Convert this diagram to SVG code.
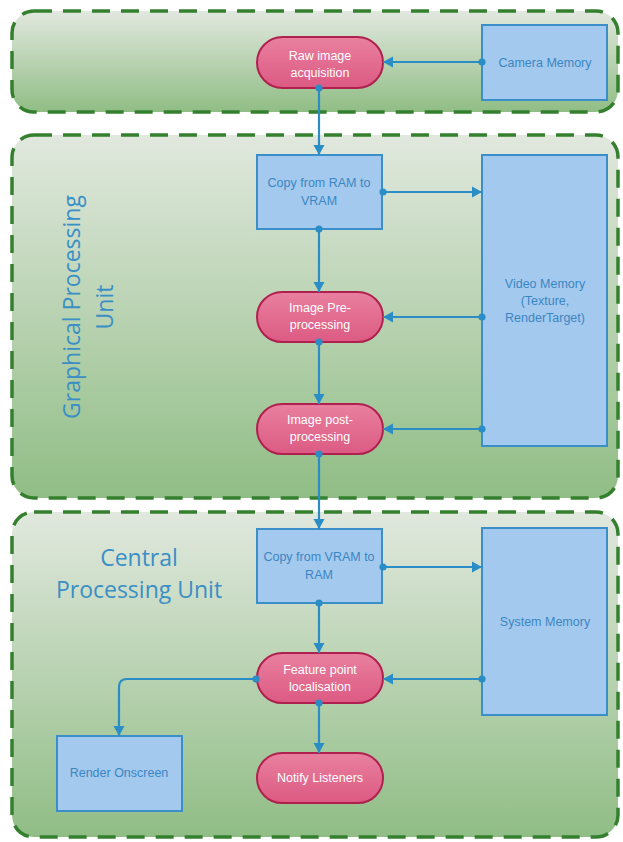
<svg xmlns="http://www.w3.org/2000/svg" width="623" height="842" viewBox="0 0 623 842">
<defs>
<linearGradient id="gGreen" x1="0" y1="0" x2="0" y2="1">
<stop offset="0" stop-color="#e1e8de"/>
<stop offset="1" stop-color="#90bd85"/>
</linearGradient>
<linearGradient id="gPink" x1="0" y1="0" x2="0" y2="1">
<stop offset="0" stop-color="#e9809f"/>
<stop offset="1" stop-color="#dc5a83"/>
</linearGradient>
<marker id="arr" markerUnits="userSpaceOnUse" markerWidth="14" markerHeight="14" refX="11" refY="7" orient="auto">
<path d="M1,1.5 L11,7 L1,12.5 Z" fill="#2a8dc5"/>
</marker>
<marker id="dot" markerUnits="userSpaceOnUse" markerWidth="10" markerHeight="10" refX="5" refY="5" orient="auto">
<circle cx="5" cy="5" r="3.6" fill="#2a8dc5"/>
</marker>
<style>
.cont{fill:url(#gGreen);stroke:#35802f;stroke-width:3.5;stroke-dasharray:18 11;}
.box{fill:#a4c9ee;stroke:#3a8fca;stroke-width:2;}
.pill{fill:url(#gPink);stroke:#b0204f;stroke-width:2;}
.bt{font-family:"Liberation Sans",Arial,sans-serif;font-size:12.5px;fill:#3a86c2;text-anchor:middle;}
.pt{font-family:"Liberation Sans",Arial,sans-serif;font-size:12.5px;fill:#ffffff;text-anchor:middle;}
.rt{font-family:"Open Sans","Liberation Sans",sans-serif;font-size:23px;fill:#3a8fc5;text-anchor:middle;}
.ed{fill:none;stroke:#2a8dc5;stroke-width:2.2;marker-start:url(#dot);marker-end:url(#arr);}
</style>
</defs>
<rect width="623" height="842" fill="#ffffff"/>
<g id="region-top">
<rect class="cont" x="12" y="11" width="606" height="101" rx="22" ry="22"/>
</g>
<g id="region-gpu">
<rect class="cont" x="12" y="135" width="606" height="363" rx="22" ry="22"/>
<text class="rt" transform="translate(80,307) rotate(-90)"><tspan x="0" y="0">Graphical Processing</tspan><tspan x="0" y="33">Unit</tspan></text>
</g>
<g id="region-cpu">
<rect class="cont" x="12" y="512" width="606" height="325" rx="22" ry="22"/>
<text class="rt"><tspan x="139" y="566">Central</tspan><tspan x="139" y="598">Processing Unit</tspan></text>
</g>
<g id="raw">
<rect class="pill" x="257" y="37" width="126" height="51" rx="25.5"/>
<text class="pt"><tspan x="320" y="60">Raw image</tspan><tspan x="320" y="77">acquisition</tspan></text>
</g>
<g id="camera">
<rect class="box" x="482" y="25" width="125" height="75"/>
<text class="bt" x="545" y="67">Camera Memory</text>
</g>
<g id="copy-ram-vram">
<rect class="box" x="257" y="155" width="125" height="74"/>
<text class="bt"><tspan x="319" y="187">Copy from RAM to</tspan><tspan x="319" y="205">VRAM</tspan></text>
</g>
<g id="video-memory">
<rect class="box" x="482" y="155" width="125" height="291"/>
<text class="bt"><tspan x="545" y="288">Video Memory</tspan><tspan x="545" y="305">(Texture,</tspan><tspan x="545" y="322">RenderTarget)</tspan></text>
</g>
<g id="pre">
<rect class="pill" x="257" y="292" width="126" height="50" rx="25"/>
<text class="pt"><tspan x="320" y="312">Image Pre-</tspan><tspan x="320" y="329">processing</tspan></text>
</g>
<g id="post">
<rect class="pill" x="257" y="404" width="126" height="50" rx="25"/>
<text class="pt"><tspan x="320" y="424">Image post-</tspan><tspan x="320" y="441">processing</tspan></text>
</g>
<g id="copy-vram-ram">
<rect class="box" x="257" y="529" width="125" height="74"/>
<text class="bt"><tspan x="319" y="561">Copy from VRAM to</tspan><tspan x="319" y="579">RAM</tspan></text>
</g>
<g id="system-memory">
<rect class="box" x="482" y="528" width="125" height="187"/>
<text class="bt" x="545" y="626">System Memory</text>
</g>
<g id="feature">
<rect class="pill" x="257" y="653" width="126" height="50" rx="25"/>
<text class="pt"><tspan x="320" y="674">Feature point</tspan><tspan x="320" y="691">localisation</tspan></text>
</g>
<g id="render">
<rect class="box" x="57" y="736" width="125" height="75"/>
<text class="bt" x="119" y="777">Render Onscreen</text>
</g>
<g id="notify">
<rect class="pill" x="257" y="753" width="126" height="50" rx="25"/>
<text class="pt" x="320" y="782">Notify Listeners</text>
</g>
<g id="edges">
<path class="ed" d="M482,62 L383,62"/>
<path class="ed" d="M319,88 L319,155"/>
<path class="ed" d="M383,192 L482,192"/>
<path class="ed" d="M319,229 L319,292"/>
<path class="ed" d="M482,317 L383,317"/>
<path class="ed" d="M319,342 L319,404"/>
<path class="ed" d="M482,429 L383,429"/>
<path class="ed" d="M319,454 L319,529"/>
<path class="ed" d="M383,567 L482,567"/>
<path class="ed" d="M319,603 L319,653"/>
<path class="ed" d="M482,679 L383,679"/>
<path class="ed" d="M256,679 L127,679 Q119,679 119,687 L119,736"/>
<path class="ed" d="M319,703 L319,753"/>
</g>
</svg>
